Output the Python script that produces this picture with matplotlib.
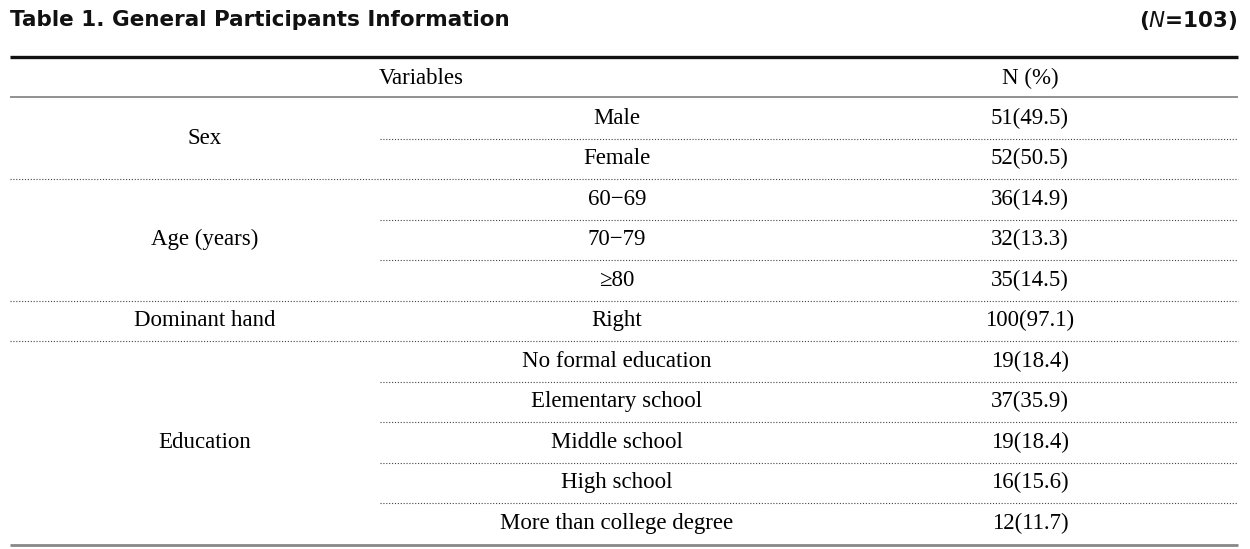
import matplotlib
matplotlib.use('Agg')
import matplotlib.pyplot as plt

# table content
groups = ['Sex', 'Age (years)', 'Dominant hand', 'Education']
group_sizes = [2, 3, 1, 5]
categories = ['Male', 'Female', '60\u221269', '70\u221279', '\u226580', 'Right',
              'No formal education', 'Elementary school', 'Middle school',
              'High school', 'More than college degree']
counts = [51, 52, 36, 32, 35, 100, 19, 37, 19, 16, 12]
percents = [49.5, 50.5, 14.9, 13.3, 14.5, 97.1, 18.4, 35.9, 18.4, 15.6, 11.7]
n_total = 103

W, H = 1250, 549
fig = plt.figure(figsize=(W / 100, H / 100), dpi=100)
ax = fig.add_axes([0, 0, 1, 1])
ax.set_xlim(0, W)
ax.set_ylim(H, 0)
ax.axis('off')

serif = 'Liberation Serif'
fs = 16.5
left, right, mid = 10, 1238, 380
x_var, x_cat, x_n = 421, 617, 1030
dotted = dict(color='#444', lw=0.8, ls=(0, (1, 1.6)))

ax.text(left, 20, 'Table 1. General Participants Information', fontsize=15.5,
        fontweight='bold', family='DejaVu Sans', va='center', ha='left', color='#111')
ax.text(right, 20, r'($\mathit{N}$=%d)' % n_total, fontsize=15.5, fontweight='bold',
        family='DejaVu Sans', va='center', ha='right', color='#111')

ax.plot([left, right], [57, 57], color='#111', lw=2.4, solid_capstyle='butt')
ax.text(x_var, 78, 'Variables', fontsize=fs, family=serif, ha='center', va='center')
ax.text(x_n, 78, 'N (%)', fontsize=fs, family=serif, ha='center', va='center')
ax.plot([left, right], [97, 97], color='#888', lw=1.3, solid_capstyle='butt')

row_top = 98
row_h = 40.5
i = 0
for g, size in zip(groups, group_sizes):
    start = i
    for k in range(size):
        y = row_top + (i + 0.5) * row_h
        ax.text(x_cat, y, categories[i], fontsize=fs, family=serif, ha='center', va='center')
        ax.text(x_n, y, '%d(%.1f)' % (counts[i], percents[i]), fontsize=fs, family=serif,
                ha='center', va='center')
        i += 1
        yb = row_top + i * row_h
        if k < size - 1:
            ax.plot([mid, right], [yb, yb], **dotted)
    gy = row_top + (start + size / 2) * row_h
    ax.text(205, gy, g, fontsize=fs, family=serif, ha='center', va='center')
    yb = row_top + i * row_h
    if i < len(categories):
        ax.plot([left, right], [yb, yb], **dotted)

ax.plot([left, right], [row_top + len(categories) * row_h + 1] * 2, color='#888', lw=2,
        solid_capstyle='butt')

fig.savefig('out.png', dpi=100)
